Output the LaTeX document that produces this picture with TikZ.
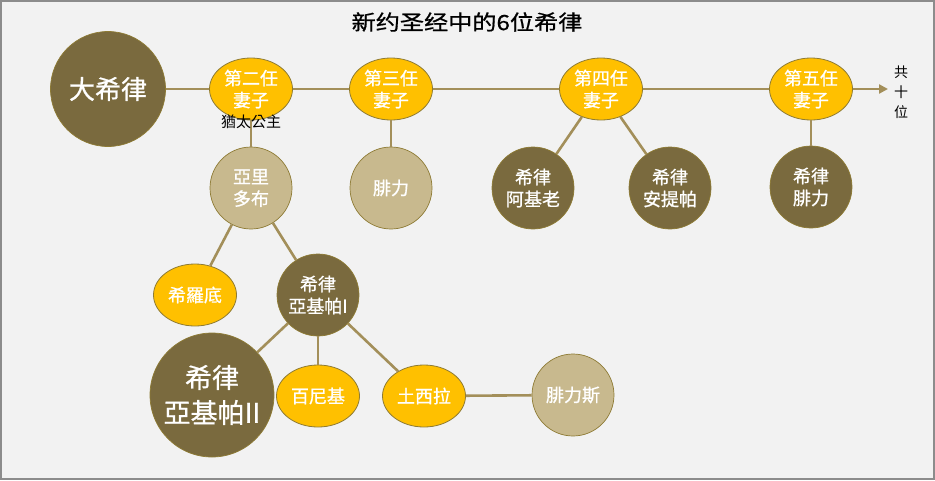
\documentclass[tikz,border=0pt]{standalone}
\usepackage{fontspec}
\usepackage{graphicx}
\usetikzlibrary{shapes.geometric,arrows.meta}
\newfontfamily\cjktc{Noto Sans CJK TC}
\newfontfamily\cjktcb{Noto Sans CJK TC}[FakeBold=0.9]
\newfontfamily\cjksc{Noto Sans CJK SC}[FakeBold=0.7]
\definecolor{bgc}{HTML}{F2F2F2}
\definecolor{framec}{HTML}{8C8C8C}
\definecolor{darkol}{HTML}{7A6A3E}
\definecolor{goldc}{HTML}{FFC000}
\definecolor{tanc}{HTML}{C8B98E}
\definecolor{linec}{HTML}{A38F5A}
\definecolor{edgec}{HTML}{8E7B35}
\tikzset{
  person/.style={circle, draw=edgec, line width=0.7pt, minimum size=82pt, inner sep=0pt,
    text=white, align=center, font=\cjktcb\fontsize{18}{22}\selectfont},
  darkp/.style={person, fill=darkol},
  tanp/.style={person, fill=tanc},
  wife/.style={ellipse, draw=edgec, line width=0.8pt, fill=goldc, minimum width=83pt,
    minimum height=62pt, inner sep=0pt, text=white, align=center,
    font=\cjktcb\fontsize{18}{22}\selectfont},
  conn/.style={draw=linec, line width=2.6pt},
}
\begin{document}
\begin{tikzpicture}[x=1pt,y=-1pt]
\path[use as bounding box] (0,0) rectangle (935,480);
\fill[framec] (0,0) rectangle (935,480);
\fill[bgc] (2,2) rectangle (933,478);
\node[font=\cjksc\fontsize{21}{24}\selectfont] (title) at (467,22) {\scalebox{1.15}[1]{新约圣经中的6位希律}};
% nodes
\node[darkp, minimum size=115pt, font=\cjktcb\fontsize{26}{30}\selectfont] (herod) at (108,89) {大希律};
\node[wife] (w2) at (251,89) {第二任\\妻子};
\node[wife] (w3) at (391,89) {第三任\\妻子};
\node[wife] (w4) at (601,89) {第四任\\妻子};
\node[wife] (w5) at (811,89) {第五任\\妻子};
\coordinate (arrowend) at (888,89);
\node[font=\cjktc\fontsize{14}{20}\selectfont, align=center] (ten) at (901,92) {共\\十\\位};
\node[tanp] (aristo) at (251,188) {亞里\\多布};
\node[tanp] (philip) at (391,188) {腓力};
\node[darkp] (archel) at (533,188) {希律\\阿基老};
\node[darkp] (antipas) at (670,188) {希律\\安提帕};
\node[darkp] (hphilip) at (811,187) {希律\\腓力};
\node[wife] (herodias) at (195,295) {希羅底};
\node[darkp] (agr1) at (318,295) {希律\\亞基帕I};
\node[darkp, minimum size=124pt, font=\cjktcb\fontsize{27}{35}\selectfont] (agr2) at (212,395) {希律\\亞基帕II};
\node[wife] (bernice) at (318,396) {百尼基};
\node[wife] (drusilla) at (424,396) {土西拉};
\node[tanp] (felix) at (573,395) {腓力斯};
% connectors
\draw[conn] (herod) -- (w2);
\draw[conn] (w2) -- (w3);
\draw[conn] (w3) -- (w4);
\draw[conn] (w4) -- (w5);
\draw[conn, -{Triangle[length=9pt,width=9pt]}] (w5) -- (arrowend);
\draw[conn] (w2) -- (aristo);
\draw[conn] (w3) -- (philip);
\draw[conn] (w4) -- (archel);
\draw[conn] (w4) -- (antipas);
\draw[conn] (w5) -- (hphilip);
\draw[conn] (aristo) -- (herodias);
\draw[conn] (aristo) -- (agr1);
\draw[conn] (agr1) -- (agr2);
\draw[conn] (agr1) -- (bernice);
\draw[conn] (agr1) -- (drusilla);
\draw[conn] (drusilla) -- (felix);
\node[font=\cjktc\fontsize{15}{16}\selectfont] (jew) at (251,122) {猶太公主};
\end{tikzpicture}
\end{document}
